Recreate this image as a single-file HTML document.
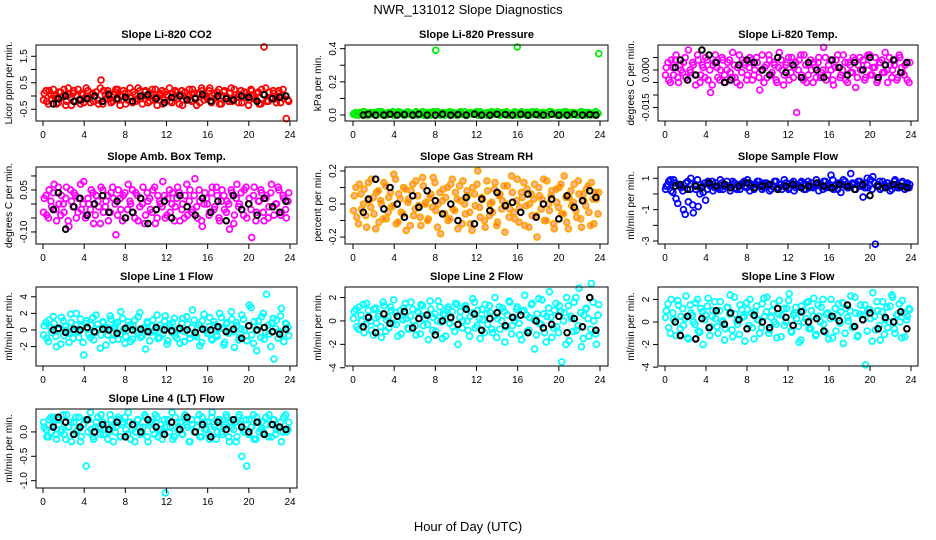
<!DOCTYPE html>
<html><head><meta charset="utf-8">
<style>
html,body{margin:0;padding:0;background:#fff;}
svg{display:block;font-family:"Liberation Sans",sans-serif;}
</style></head>
<body>
<svg id="chart" width="936" height="540" viewBox="0 0 936 540">
<text x="468" y="14" text-anchor="middle" font-size="13">NWR_131012  Slope Diagnostics</text>
<text x="468" y="531" text-anchor="middle" font-size="13">Hour of Day (UTC)</text>
</svg>
<script>
// ---- data ----
const xTicks = [0,4,8,12,16,20,24];
const blackHours = [1,1.5,2.2,3,3.6,4.3,5,5.8,6.4,7.2,8,8.7,9.5,10.2,11,11.8,12.5,13.3,14,14.8,15.5,16.3,17,17.8,18.5,19.3,20,20.8,21.5,22.3,23,23.6];

const co2Vals = [0.1,-0.2,0.2,-0.1,0.0,-0.3,0.15,-0.05,0.25,-0.2,0.05,-0.35,0.2,0.0,-0.15,0.1,-0.25,0.3,-0.1,0.05,-0.2,0.15,-0.3,0.6,0.2,-0.1,0.1,-0.25,0.05,0.25,-0.15,0.0,0.2,-0.3,0.1,-0.05,0.15,-0.2,0.3,-0.1,0.0,0.2,-0.25,0.1,-0.15,0.25,-0.05,0.05,-0.3,0.15,0.0,-0.2,0.1,0.2,-0.1,0.05,-0.35,0.15,0.0,-0.15,0.25,-0.05,0.1,-0.25,0.2,0.0,-0.1,0.3,-0.2,0.05,0.15,-0.3,0.0,0.2,-0.1,0.1,-0.2,0.25,-0.05,0.05,-0.25,0.15,0.0,-0.15,0.2,-0.1,0.1,-0.3,0.25,1.85,-0.2,0.15,-0.05,0.1,-0.25,0.2,0.0,-0.1,-0.85,-0.2];
const co2Vals2 = [-0.15,0.2,-0.3,0.05,0.25,-0.1,-0.25,0.15,0.0,-0.35,0.3,-0.05,0.1,-0.2,0.25,-0.3,0.05,-0.1,0.2,-0.25,0.1,0.0,-0.15,0.3,-0.3,0.05,0.2,-0.1,-0.2,0.15,0.25,-0.35,0.0,0.1,-0.15,0.3,-0.25,0.05,-0.1,0.2,-0.3,0.15,0.0,-0.2,0.25,-0.05,-0.35,0.1,0.2,-0.15,0.05,0.3,-0.25,-0.05,0.15,-0.3,0.2,0.0,-0.1,0.25,-0.2,0.1,-0.35,0.05,0.3,-0.15,0.0,0.2,-0.25,0.1,-0.05,0.25,-0.3,0.15,0.0,-0.2,0.3,-0.1,0.05,-0.25,0.2,-0.05,0.1,-0.35,0.25,0.0,-0.15,0.15,-0.3,0.05,0.3,-0.2,-0.05,0.2,-0.1,0.1,-0.25,0.25,0.0,-0.15];
const co2Black = [-0.3,-0.1,0.0,-0.2,-0.15,-0.1,0.0,-0.2,0.05,-0.1,-0.05,-0.2,0.0,0.05,-0.1,-0.25,-0.05,0.0,-0.15,-0.1,0.05,-0.2,0.0,-0.1,-0.15,0.0,-0.05,-0.2,0.05,-0.1,-0.05,0.0];

const presVals = [0.01,0.0,0.015,0.005,0.02,0.0,0.01,0.005,0.015,0.0,0.01,0.02,0.005,0.0,0.01,0.015,0.0,0.005,0.02,0.01,0.0,0.015,0.005,0.01,0.0,0.02,0.01,0.005,0.0,0.015,0.01,0.0,0.02,0.39,0.01,0.0,0.015,0.01,0.005,0.0,0.015,0.0,0.01,0.02,0.005,0.0,0.01,0.015,0.005,0.01,0.0,0.02,0.005,0.01,0.015,0.0,0.01,0.005,0.02,0.0,0.01,0.015,0.0,0.005,0.01,0.02,0.41,0.0,0.01,0.005,0.015,0.0,0.02,0.01,0.005,0.0,0.015,0.01,0.0,0.02,0.005,0.01,0.0,0.015,0.005,0.02,0.0,0.01,0.015,0.005,0.0,0.01,0.02,0.005,0.0,0.015,0.01,0.005,0.0,0.37];
const presVals2 = [0.005,0.015,0.0,0.01,0.02,0.005,0.0,0.015,0.01,0.0,0.02,0.005,0.01,0.0,0.015,0.005,0.02,0.0,0.01,0.015,0.005,0.0,0.02,0.01,0.005,0.015,0.0,0.01,0.02,0.0,0.005,0.015,0.01,0.0,0.02,0.005,0.01,0.0,0.015,0.02,0.005,0.01,0.0,0.015,0.005,0.02,0.0,0.01,0.005,0.015,0.02,0.0,0.01,0.005,0.0,0.015,0.02,0.01,0.005,0.0,0.015,0.01,0.02,0.0,0.005,0.015,0.0,0.01,0.02,0.005,0.0,0.015,0.01,0.005,0.02,0.0,0.01,0.015,0.005,0.0,0.02,0.01,0.005,0.015,0.0,0.01,0.02,0.005,0.0,0.015,0.01,0.0,0.02,0.005,0.015,0.01,0.0,0.005,0.02,0.01];
const presBlack = [0.0,0.005,0.0,0.0,0.005,0.0,0.003,0.0,0.005,0.0,0.0,0.005,0.0,0.003,0.0,0.005,0.0,0.0,0.005,0.003,0.0,0.005,0.0,0.003,0.0,0.005,0.0,0.0,0.005,0.0,0.003,0.0];

const tempVals = [0.001,-0.004,0.004,-0.002,0.006,-0.005,0.0,0.003,-0.003,0.008,-0.001,0.002,-0.006,0.004,-0.002,0.001,0.005,-0.004,-0.009,0.002,0.006,-0.003,0.0,0.004,-0.005,0.003,-0.001,0.007,-0.003,0.001,-0.006,0.004,0.002,-0.002,0.005,-0.004,0.0,0.003,-0.008,0.006,0.001,-0.003,0.004,-0.001,0.002,-0.005,0.007,0.0,-0.002,0.003,-0.004,0.005,0.001,-0.017,0.004,-0.002,0.006,-0.005,0.002,0.0,0.003,-0.003,0.005,-0.001,0.009,-0.004,0.002,0.0,-0.006,0.004,0.001,-0.002,0.006,-0.004,0.003,-0.001,0.005,-0.007,0.002,0.0,0.004,-0.003,0.006,-0.002,0.001,0.005,-0.004,0.003,-0.001,0.007,-0.005,0.002,0.0,0.004,-0.003,0.005,-0.001,0.002,-0.004,0.003];
const tempVals2 = [-0.002,0.003,-0.005,0.001,0.004,-0.003,0.002,-0.001,0.005,-0.004,0.0,0.003,-0.002,0.006,-0.005,0.002,-0.003,0.004,0.0,-0.006,0.003,0.001,-0.004,0.005,-0.002,0.0,0.004,-0.003,0.002,-0.005,0.006,-0.001,0.003,-0.004,0.001,0.004,-0.002,0.005,-0.003,0.0,-0.005,0.002,0.006,-0.002,0.003,-0.004,0.001,0.004,-0.006,0.002,0.005,-0.001,-0.003,0.003,0.0,0.006,-0.004,0.002,-0.002,0.004,-0.005,0.001,0.003,-0.003,0.0,0.005,-0.002,0.004,-0.004,0.001,0.006,-0.003,0.0,0.003,-0.005,0.002,-0.001,0.004,-0.003,0.005,0.0,-0.004,0.002,0.006,-0.002,0.001,-0.005,0.003,0.004,-0.001,0.0,0.005,-0.003,0.002,-0.004,0.006,0.001,-0.002,0.003,-0.005];
const tempBlack = [0.001,0.004,-0.004,-0.002,0.008,0.006,0.003,-0.005,-0.004,0.002,0.004,0.003,0.0,-0.002,0.005,-0.001,0.002,-0.003,0.003,0.0,-0.003,0.004,0.001,-0.002,0.003,0.0,0.005,-0.003,0.002,0.004,-0.001,0.003];

const ambVals = [0.02,-0.04,0.05,-0.01,0.07,-0.06,0.0,0.03,-0.03,0.06,-0.08,0.01,0.04,-0.05,0.02,-0.02,0.08,-0.04,0.0,0.05,-0.07,0.03,-0.01,0.06,-0.03,0.01,-0.06,0.04,0.02,-0.11,0.05,-0.02,0.03,-0.05,0.07,0.0,-0.03,0.04,-0.06,0.02,0.06,-0.04,0.01,-0.02,0.05,-0.07,0.03,0.0,0.08,-0.05,0.02,-0.03,0.04,-0.01,0.06,-0.06,0.0,0.03,-0.04,0.05,-0.02,0.09,-0.05,0.01,-0.08,0.04,0.0,-0.03,0.06,-0.01,0.03,-0.06,0.05,-0.02,0.01,-0.09,0.04,-0.04,0.07,0.0,-0.02,0.05,-0.05,0.02,-0.12,0.06,-0.03,0.01,0.04,-0.06,0.03,-0.01,0.07,-0.04,0.0,0.05,-0.03,0.02,-0.05,0.04];
const ambVals2 = [-0.03,0.03,-0.05,0.01,0.04,-0.02,0.06,-0.04,0.0,0.02,-0.06,0.05,-0.01,0.03,-0.03,0.07,0.0,-0.05,0.02,-0.02,0.04,-0.04,0.01,-0.07,0.05,-0.01,0.03,-0.03,0.06,0.0,-0.04,0.02,-0.06,0.04,-0.02,0.01,0.05,-0.05,0.03,-0.01,0.0,-0.07,0.04,0.02,-0.03,0.06,-0.05,0.01,-0.01,0.03,-0.04,0.05,0.0,-0.06,0.02,0.04,-0.02,-0.05,0.07,0.01,-0.03,0.03,-0.01,0.05,-0.06,0.0,0.02,-0.04,0.04,-0.02,0.06,-0.05,0.01,0.03,-0.03,0.0,0.05,-0.07,0.02,-0.01,0.04,-0.04,0.06,0.0,-0.02,0.03,-0.06,0.01,0.05,-0.03,0.02,-0.05,0.04,-0.01,0.0,0.06,-0.04,0.03,-0.02,0.01];
const ambBlack = [-0.02,0.04,-0.09,-0.01,0.02,-0.04,0.0,0.03,-0.03,0.01,-0.05,-0.03,0.02,-0.07,-0.02,0.01,-0.05,0.03,-0.01,-0.04,0.02,-0.03,0.01,-0.06,0.03,-0.02,0.0,-0.04,0.02,-0.01,-0.03,0.01];

const rhVals = [0.05,-0.08,0.12,-0.03,0.09,-0.14,0.02,0.15,-0.06,0.07,-0.11,0.0,0.13,-0.09,0.04,-0.02,0.18,-0.12,0.06,-0.05,0.1,-0.16,0.03,0.08,-0.07,0.14,-0.01,-0.13,0.11,0.01,-0.09,0.06,0.16,-0.04,0.0,-0.18,0.09,0.04,-0.1,0.12,-0.03,0.07,-0.15,0.02,0.14,-0.06,0.05,-0.12,0.1,-0.01,0.2,-0.08,0.03,-0.14,0.08,0.0,-0.05,0.13,-0.11,0.06,0.02,-0.17,0.11,-0.03,0.07,-0.09,0.15,-0.02,0.04,-0.13,0.09,0.0,-0.07,0.12,-0.2,0.05,0.03,-0.1,0.14,-0.04,0.08,-0.15,0.01,0.1,-0.06,0.17,-0.11,0.04,-0.01,0.12,-0.08,0.06,-0.14,0.02,0.09,-0.05,0.13,-0.12,0.03,0.07];
const rhVals2 = [-0.04,0.1,-0.12,0.06,0.0,-0.07,0.13,-0.02,0.04,-0.15,0.08,0.02,-0.09,0.11,-0.05,0.07,-0.01,0.15,-0.11,0.03,-0.06,0.09,0.01,-0.13,0.12,-0.03,0.05,-0.08,0.16,0.0,-0.1,0.04,-0.02,0.13,-0.14,0.07,0.02,-0.06,0.1,-0.09,0.15,-0.04,0.03,0.11,-0.12,0.0,0.08,-0.05,-0.16,0.06,0.12,-0.02,0.04,-0.1,0.14,-0.07,0.01,0.09,-0.13,0.05,-0.03,0.11,0.0,-0.08,0.17,-0.05,0.02,-0.11,0.07,0.13,-0.01,-0.14,0.06,0.03,-0.07,0.1,-0.03,0.15,-0.1,0.0,0.05,-0.12,0.09,-0.02,0.12,-0.06,0.04,-0.15,0.08,0.01,-0.04,0.14,-0.09,0.06,-0.01,0.11,-0.13,0.03,0.07,-0.06];
const rhBlack = [-0.05,0.03,0.15,-0.03,0.1,0.0,-0.08,0.05,-0.02,0.08,0.02,-0.06,0.0,-0.1,0.04,-0.12,0.03,-0.04,0.07,-0.01,0.01,-0.05,0.06,-0.08,0.0,0.03,-0.09,0.05,-0.02,0.02,0.08,0.04];

const sflowVals = [0.5,0.8,0.2,0.9,-0.3,0.6,0.4,-1.0,0.7,-0.5,1.0,-1.2,0.3,-0.8,0.6,0.1,-0.4,0.8,0.5,0.2,0.7,0.4,0.9,0.3,0.6,0.5,0.2,0.8,0.4,0.6,0.3,0.7,0.5,0.9,0.2,0.6,0.4,0.8,0.5,0.3,0.7,0.6,0.2,0.5,0.8,0.4,0.6,0.3,0.9,0.5,0.4,0.7,0.2,0.6,0.5,0.8,0.3,0.6,0.4,0.7,0.5,0.9,0.2,0.6,0.8,0.4,0.5,1.2,0.3,0.6,0.7,0.1,0.9,0.5,0.4,1.3,0.6,0.3,0.8,0.5,-0.2,0.7,0.4,0.9,1.1,-3.2,0.6,0.3,0.8,0.5,0.7,0.2,0.6,0.9,0.4,0.5,0.8,0.3,0.7,0.6];
const sflowVals2 = [0.3,0.6,0.9,0.1,0.7,-0.6,0.5,0.2,-1.3,0.8,0.3,-0.7,0.6,0.9,0.0,0.5,0.7,0.3,0.6,0.8,0.4,0.5,0.3,0.7,0.5,0.8,0.4,0.6,0.7,0.3,0.5,0.6,0.8,0.4,0.7,0.5,0.3,0.6,0.8,0.5,0.4,0.7,0.6,0.3,0.5,0.8,0.4,0.6,0.5,0.7,0.3,0.6,0.8,0.4,0.5,0.7,0.6,0.3,0.8,0.5,0.4,0.6,0.7,0.5,0.3,0.8,0.6,0.4,0.9,0.5,0.3,0.7,0.6,0.8,0.4,0.5,0.7,0.3,0.6,0.8,0.5,0.4,1.0,0.6,0.3,0.7,0.5,0.8,0.4,0.6,0.7,0.5,0.3,0.8,0.6,0.4,0.7,0.5,0.6,0.4];
const sflowBlack = [0.5,0.6,0.3,0.5,0.4,0.7,0.5,0.6,0.4,0.5,0.7,0.4,0.5,0.6,0.3,0.5,0.6,0.4,0.5,0.7,0.5,0.4,0.6,0.5,0.3,0.6,-0.1,0.5,0.4,0.6,0.5,0.4];

const l1Vals = [0.5,-1.0,1.2,-0.3,0.8,-2.0,0.2,1.5,-0.7,0.0,-1.5,0.9,-0.2,2.0,-0.9,0.4,-3.0,1.1,-0.5,0.6,-1.2,1.8,0.1,-0.6,0.9,-1.8,0.3,1.3,-0.4,0.7,-1.1,2.2,0.0,-0.8,1.0,-1.4,0.5,-0.1,1.6,-0.9,0.2,-2.3,0.8,-0.3,1.2,0.0,-1.0,0.6,-0.5,1.7,-1.3,0.4,0.9,-0.7,0.1,-1.6,1.4,-0.2,0.7,-1.0,2.4,-0.6,0.3,-1.9,1.1,0.0,-0.4,1.5,-1.2,0.6,-0.8,2.0,0.2,-1.5,0.9,-0.3,1.3,-2.1,0.5,-0.9,1.8,0.0,-1.3,3.0,-0.6,1.0,-2.5,0.4,1.6,-1.1,4.3,-0.5,0.8,-3.5,1.2,-0.2,2.6,-1.4,0.7,-0.7];
const l1Vals2 = [-0.6,0.9,-1.4,0.3,1.6,-0.8,0.0,-1.7,1.1,0.4,-0.4,1.9,-1.0,0.6,-0.2,1.3,-1.5,0.8,0.1,-0.9,1.5,-0.3,0.7,-2.2,1.0,0.2,-0.6,1.7,-1.2,0.4,0.9,-0.5,1.4,-1.6,0.0,0.6,-1.1,1.2,-0.4,2.1,-0.7,0.3,1.0,-1.3,0.5,-0.2,1.8,-0.9,0.2,1.1,-1.7,0.7,-0.3,1.4,-1.0,0.0,0.8,-1.4,1.6,-0.5,0.3,1.2,-0.8,0.6,-1.5,1.9,-0.1,0.4,-1.1,1.0,-0.6,0.2,1.5,-1.8,0.7,-0.4,2.2,-0.2,0.9,-1.2,0.1,1.3,-0.7,0.5,2.7,-1.6,0.0,1.1,-0.9,2.0,-0.3,0.6,-2.0,1.4,0.2,-1.0,1.7,-0.5,0.8,0.3];
const l1Black = [0.0,0.2,-0.3,0.1,0.0,0.3,-0.2,0.1,0.0,-0.4,0.2,0.0,0.1,-0.2,0.3,0.0,-0.1,0.2,0.0,-0.3,0.1,0.0,0.4,-0.2,0.1,-1.0,0.5,0.0,0.3,-0.2,-0.5,0.1];

const l2Vals = [0.8,-0.5,1.2,0.0,-1.0,1.5,0.3,-0.8,1.0,-0.2,0.6,-1.4,1.3,0.1,-0.6,0.9,1.8,-0.3,0.4,-1.1,1.1,0.2,-0.7,1.6,0.0,-1.2,0.7,1.4,-0.4,0.5,-1.6,1.0,0.3,-0.9,1.7,-0.1,0.6,-1.3,1.2,0.2,-0.5,1.5,-2.0,0.8,0.0,1.3,-0.8,0.4,1.9,-0.6,0.9,-1.5,0.1,1.4,-0.3,0.7,-1.0,2.0,0.2,-0.7,1.1,-1.8,0.5,1.6,-0.4,0.0,1.2,-1.2,0.8,2.2,-0.9,0.3,1.5,-2.4,0.6,-0.2,1.8,-1.0,0.4,2.5,-1.4,0.9,-0.5,1.3,-3.5,0.7,2.0,-1.7,0.2,1.6,-0.8,2.8,-2.2,0.5,1.1,-1.3,3.2,0.0,-2.0,1.4];
const l2Vals2 = [0.2,1.0,-0.7,0.5,1.4,-0.3,0.9,0.0,-1.2,1.1,0.4,-0.5,1.6,-0.9,0.3,1.2,-0.2,0.7,-1.3,0.9,0.1,1.5,-0.6,0.4,1.0,-0.4,0.8,-1.1,1.3,0.2,-0.3,1.7,-0.8,0.6,0.0,1.2,-1.5,0.5,1.0,-0.2,0.8,-0.9,1.4,0.3,-0.6,1.1,0.0,-1.3,0.7,1.6,-0.4,0.2,1.0,-1.0,0.6,1.3,-0.7,0.4,-1.4,1.2,0.0,0.8,-0.5,1.7,-1.1,0.3,1.0,-0.2,-1.6,0.9,0.5,-0.8,1.4,0.1,-1.2,1.9,-0.3,0.6,-1.8,1.1,0.3,-0.6,1.5,-1.0,0.8,0.0,-2.0,1.3,0.4,-0.9,2.0,-0.4,0.7,-1.5,1.0,0.2,-0.7,1.6,-1.1,0.5];
const l2Black = [-0.5,0.3,-1.0,0.6,-0.2,0.4,0.8,-0.6,0.2,0.5,-1.2,0.0,0.3,-0.3,1.0,0.6,-0.8,0.2,0.7,-0.4,0.3,0.5,-1.0,0.0,-0.6,-0.3,0.4,-1.0,0.2,-0.5,2.0,-0.8];

const l3Vals = [1.0,-0.5,2.0,0.2,-1.2,1.5,0.5,-0.3,2.3,-1.5,0.8,0.0,1.7,-0.8,1.2,-2.0,0.6,2.1,-0.4,1.0,0.3,-1.0,1.8,0.1,-0.6,1.3,2.4,-1.3,0.7,-0.2,1.5,0.4,-1.7,1.1,2.0,-0.5,0.9,0.2,-1.0,1.6,0.5,2.2,-0.7,1.0,0.0,-1.4,1.9,0.6,-0.3,1.2,2.5,-0.9,0.8,0.3,-1.8,1.4,0.0,1.7,-0.6,1.0,2.1,-1.1,0.5,1.3,-0.2,0.7,-1.5,2.0,0.4,-0.8,1.6,0.9,-1.9,1.2,0.1,2.3,-0.4,0.8,-1.2,1.5,0.6,-3.8,1.1,0.3,2.6,-0.7,1.0,-1.6,1.8,0.2,-0.5,1.4,2.2,-1.0,0.7,0.0,1.9,-1.3,0.5,1.1];
const l3Vals2 = [0.4,1.6,-1.0,0.8,0.0,1.9,-0.6,1.2,0.3,-1.4,1.5,0.6,-0.2,2.0,-0.9,0.9,0.2,1.4,-1.2,0.5,1.8,-0.4,1.0,0.0,-1.6,1.3,0.7,-0.7,2.2,0.1,-1.1,1.1,0.5,1.7,-0.3,0.8,-1.5,1.4,0.2,-0.5,2.1,0.9,-1.0,0.4,1.6,-0.2,0.7,-1.3,1.2,0.0,1.9,-0.8,0.6,1.3,-0.4,-1.6,1.0,0.3,1.8,-0.6,0.5,-1.2,1.5,0.0,2.0,-0.9,0.8,0.3,-1.4,1.2,0.6,-0.1,1.7,-1.0,0.4,1.0,-0.5,2.2,-1.3,0.7,0.2,1.5,-0.8,1.1,-1.7,0.5,1.8,-0.3,0.9,-1.1,1.3,0.0,2.4,-0.6,0.6,1.6,-1.4,0.8,0.2,1.2];
const l3Black = [0.0,-1.2,0.5,-1.5,0.3,-0.5,1.0,-0.2,0.8,0.2,-0.6,0.6,0.0,-0.5,1.2,0.4,-0.3,0.9,0.0,0.3,-0.8,0.5,0.1,1.5,-0.4,0.2,0.8,-0.6,0.4,0.0,0.9,-0.6];

const l4Vals = [0.1,-0.1,0.25,0.0,0.3,-0.15,0.15,0.05,-0.05,0.35,0.1,-0.2,0.2,0.0,0.3,-0.1,0.15,-0.7,0.25,0.05,-0.15,0.2,0.1,0.35,-0.05,0.15,0.0,0.25,-0.2,0.1,0.3,-0.1,0.2,0.05,0.4,-0.15,0.15,0.0,0.25,-0.05,0.1,0.3,-0.2,0.2,0.05,0.35,-0.1,0.15,0.0,-1.25,0.25,0.1,-0.15,0.3,0.05,0.2,-0.05,0.35,0.1,-0.2,0.15,0.0,0.25,-0.1,0.3,0.05,0.2,-0.15,0.4,0.1,0.0,0.25,-0.05,0.15,0.3,-0.2,0.1,0.2,-0.1,0.35,-0.5,0.05,-0.7,0.25,0.1,-0.15,0.3,0.0,0.2,-0.05,0.15,0.35,-0.1,0.25,0.05,0.1,-0.2,0.3,0.0,0.2];
const l4Vals2 = [0.2,0.05,-0.1,0.3,0.15,-0.05,0.25,0.0,0.35,-0.15,0.1,0.2,-0.05,0.3,0.05,-0.2,0.15,0.25,0.0,0.4,-0.1,0.1,0.3,-0.05,0.2,0.05,-0.15,0.35,0.1,0.0,0.25,-0.1,0.15,0.3,-0.05,0.2,0.05,-0.2,0.25,0.1,0.0,0.35,-0.1,0.15,0.2,-0.05,0.3,0.05,-0.15,0.25,0.1,0.0,0.4,-0.1,0.2,0.05,-0.05,0.3,0.15,-0.2,0.25,0.0,0.1,0.35,-0.1,0.2,0.05,-0.05,0.3,0.15,-0.15,0.25,0.0,0.1,0.35,-0.1,0.2,0.05,-0.2,0.3,0.15,0.0,0.25,-0.05,0.1,0.35,-0.15,0.2,0.05,0.0,0.3,-0.1,0.15,0.25,-0.05,0.1,0.2,0.0,0.35,0.05];
const l4Black = [0.1,0.3,0.2,-0.05,0.1,0.25,0.0,0.15,0.05,0.2,-0.1,0.15,0.0,0.25,0.1,-0.05,0.2,0.05,0.3,0.0,0.15,-0.1,0.2,0.05,0.25,0.1,0.0,0.2,-0.05,0.15,0.1,0.05];

// ---- layout config ----
const cols = [{l:36,r:297,x0:43,x24:290},{l:345,r:608,x0:353,x24:600},{l:658,r:918,x0:665,x24:911}];
const rows = [{t:45,b:121,title:38},{t:167,b:244,title:160},{t:287,b:366,title:280},{t:409,b:488,title:402}];
const panels = [
 {name:'co2',title:'Slope Li-820 CO2',c:0,r:0,yl:'Licor ppm per min.',min:-0.943,max:1.925,ticks:[-0.5,0,0.5,1,1.5],lab:['-0.5','','0.5','','1.5'],col:'#ff0000',vals:co2Vals,vals2:co2Vals2,blk:co2Black},
 {name:'pressure',title:'Slope Li-820 Pressure',c:1,r:0,yl:'kPa per min.',min:-0.036,max:0.422,ticks:[0,0.1,0.2,0.3,0.4],lab:['0.0','','0.2','','0.4'],col:'#00ee00',vals:presVals,vals2:presVals2,blk:presBlack},
 {name:'li820-temp',title:'Slope Li-820 Temp.',c:2,r:0,yl:'degrees C per min.',min:-0.0204,max:0.010,ticks:[-0.015,-0.01,-0.005,0,0.005],lab:['-0.015','','','0.000',''],col:'#ff00ff',vals:tempVals,vals2:tempVals2,blk:tempBlack},
 {name:'amb-box-temp',title:'Slope Amb. Box Temp.',c:0,r:1,yl:'degrees C per min.',min:-0.143,max:0.132,ticks:[-0.1,-0.05,0,0.05,0.1],lab:['-0.10','','','0.05',''],col:'#ff00ff',vals:ambVals,vals2:ambVals2,blk:ambBlack},
 {name:'gas-rh',title:'Slope Gas Stream RH',c:1,r:1,yl:'percent per min.',min:-0.242,max:0.224,ticks:[-0.2,-0.1,0,0.1,0.2],lab:['-0.2','','0.0','','0.2'],col:'#ffa500',fill:'rgba(255,40,0,0.35)',vals:rhVals,vals2:rhVals2,blk:rhBlack},
 {name:'sample-flow',title:'Slope Sample Flow',c:2,r:1,yl:'ml/min per min.',min:-3.19,max:1.72,ticks:[-3,-2,-1,0,1],lab:['-3','','-1','','1'],col:'#0000ff',vals:sflowVals,vals2:sflowVals2,blk:sflowBlack},
 {name:'line1-flow',title:'Slope Line 1 Flow',c:0,r:2,yl:'ml/min per min.',min:-4.34,max:5.18,ticks:[-2,0,2,4],lab:['-2','0','2','4'],col:'#00ffff',vals:l1Vals,vals2:l1Vals2,blk:l1Black},
 {name:'line2-flow',title:'Slope Line 2 Flow',c:1,r:2,yl:'ml/min per min.',min:-3.85,max:2.9,ticks:[-4,-2,0,2],lab:['-4','-2','0','2'],col:'#00ffff',vals:l2Vals,vals2:l2Vals2,blk:l2Black},
 {name:'line3-flow',title:'Slope Line 3 Flow',c:2,r:2,yl:'ml/min per min.',min:-3.9,max:3.1,ticks:[-4,-2,0,2],lab:['-4','-2','0','2'],col:'#00ffff',vals:l3Vals,vals2:l3Vals2,blk:l3Black},
 {name:'line4-flow',title:'Slope Line 4 (LT) Flow',c:0,r:3,yl:'ml/min per min.',min:-1.15,max:0.47,ticks:[-1,-0.5,0],lab:['-1.0','-0.5','0.0'],col:'#00ffff',vals:l4Vals,vals2:l4Vals2,blk:l4Black}
];

const NS='http://www.w3.org/2000/svg';
const svg=document.getElementById('chart');
function mk(tag,attrs,parent){const e=document.createElementNS(NS,tag);for(const k in attrs)e.setAttribute(k,attrs[k]);(parent||svg).appendChild(e);return e;}

panels.forEach(p=>{
  const C=cols[p.c],R=rows[p.r];
  const xs=h=>C.x0+(C.x24-C.x0)*h/24;
  const ys=v=>R.b-(v-p.min)/(p.max-p.min)*(R.b-R.t);
  const g=mk('g',{});
  
  
  const t=mk('text',{x:(C.l+C.r)/2,y:R.title,'text-anchor':'middle','font-size':11,'font-weight':'bold'},g);
  t.textContent=p.title;
  
  
  const pts=mk('g',{},g);
  
  
  [[p.vals,0.5],[p.vals2,0.0]].forEach(([arr,off])=>{
    const n=arr.length;
    arr.forEach((v,i)=>{
      const c=mk('circle',{cx:xs((i+off)*24/n+ (off?0:0.05)),cy:ys(v),r:2.9,fill:p.fill||'none',stroke:p.col,'stroke-width':1.8},pts);
      
      
    });
  });
  const bp=mk('g',{},g);
  
  
  p.blk.forEach((v,i)=>{
    const c=mk('circle',{cx:xs(blackHours[i]),cy:ys(v),r:2.8,fill:'none',stroke:'#000','stroke-width':2},bp);
    
    
  });
  const box=mk('rect',{x:C.l,y:R.t,width:C.r-C.l,height:R.b-R.t,fill:'none',stroke:'#000','stroke-width':1},g);
  
  
  const xa=mk('g',{},g);
  
  
  xTicks.forEach(h=>{
    mk('line',{x1:xs(h),x2:xs(h),y1:R.b,y2:R.b+5,stroke:'#000'},xa);
    const tl=mk('text',{x:xs(h),y:R.b+17,'text-anchor':'middle','font-size':10},xa);
    tl.textContent=h;
    
    
  });
  const ya=mk('g',{},g);
  
  
  p.ticks.forEach((v,i)=>{
    const y=ys(v);
    mk('line',{x1:C.l-5,x2:C.l,y1:y,y2:y,stroke:'#000'},ya);
    if(p.lab[i]){
      const tl=mk('text',{x:C.l-9,y:y,'text-anchor':'middle','font-size':10,transform:'rotate(-90 '+(C.l-9)+' '+y+')'},ya);
      tl.textContent=p.lab[i];
      
      
    }
  });
  const yc=(R.t+R.b)/2, yx=C.l-24;
  const yt=mk('text',{x:yx,y:yc,'text-anchor':'middle','font-size':10,transform:'rotate(-90 '+yx+' '+yc+')'},g);
  yt.textContent=p.yl;
  
  
});
</script>
</body></html>
